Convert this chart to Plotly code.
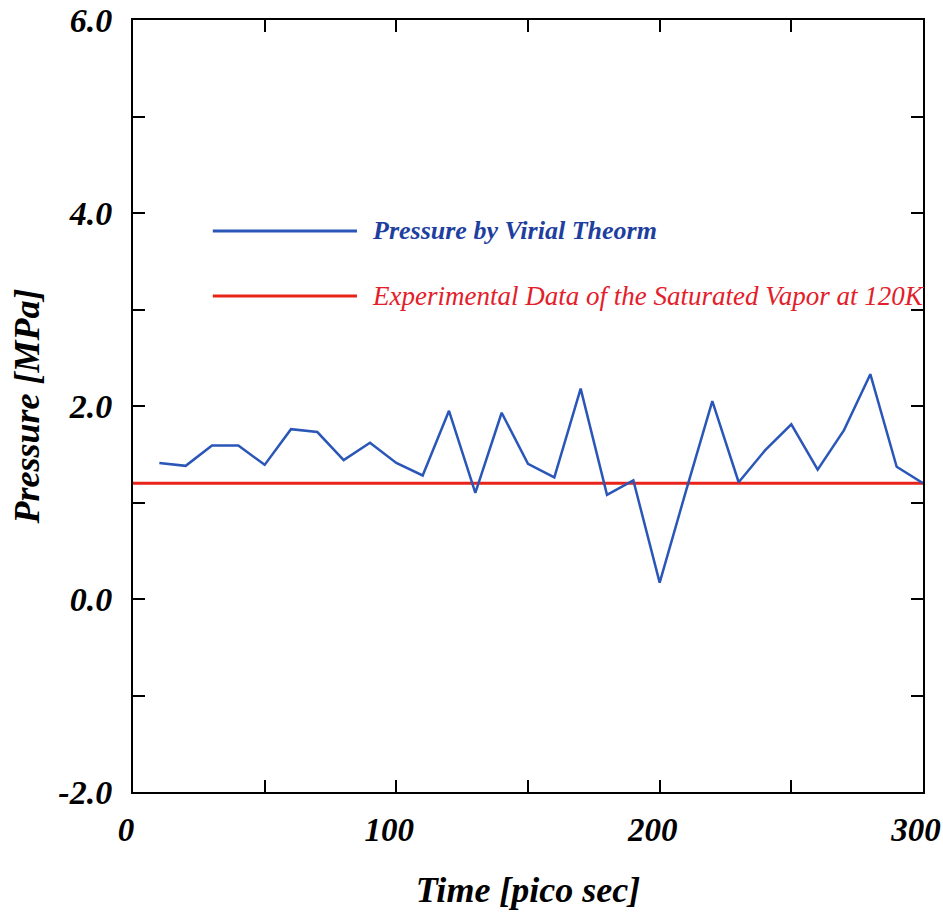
import plotly.graph_objects as go

# Data
time_ps = [10, 20, 30, 40, 50, 60, 70, 80, 90, 100,
           110, 120, 130, 140, 150, 160, 170, 180, 190, 200,
           210, 220, 230, 240, 250, 260, 270, 280, 290, 300]
pressure_virial = [1.41, 1.38, 1.59, 1.59, 1.39, 1.76, 1.73, 1.44, 1.62, 1.41,
                   1.28, 1.95, 1.10, 1.93, 1.40, 1.26, 2.18, 1.08, 1.23, 0.17,
                   1.12, 2.05, 1.21, 1.54, 1.81, 1.34, 1.75, 2.33, 1.37, 1.20]
exp_time = [0, 300]
exp_pressure = [1.2, 1.2]

x_tickvals = [0, 50, 100, 150, 200, 250, 300]
x_ticktext = ["0", "", "100", "", "200", "", "300"]
y_tickvals = [-2, -1, 0, 1, 2, 3, 4, 5, 6]
y_ticktext = ["-2.0", "", "0.0", "", "2.0", "", "4.0", "", "6.0"]

legend_names = ["Pressure by Virial Theorm",
                "Experimental Data of the Saturated Vapor at 120K"]

BLUE = "#2a56b8"
RED = "#e8231a"
SERIF = "Liberation Serif"

fig = go.Figure()
fig.add_trace(go.Scatter(x=exp_time, y=exp_pressure, mode="lines",
                         line=dict(color=RED, width=3), name=legend_names[1],
                         showlegend=False))
fig.add_trace(go.Scatter(x=time_ps, y=pressure_virial, mode="lines",
                         line=dict(color=BLUE, width=2.5), name=legend_names[0],
                         showlegend=False))

# Legend drawn manually to match the long sample lines
leg_y = [0.7267, 0.6425]
leg_colors = [BLUE, RED]
for yy, col in zip(leg_y, leg_colors):
    fig.add_shape(type="line", xref="paper", yref="paper",
                  x0=0.101, x1=0.2835, y0=yy, y1=yy,
                  line=dict(color=col, width=3))
fig.add_annotation(xref="paper", yref="paper", x=0.3, y=leg_y[0],
                   xanchor="left", yanchor="middle", showarrow=False,
                   text=legend_names[0],
                   font=dict(family=SERIF, size=26, color="#1f3f9f",
                             weight="bold", style="italic"))
fig.add_annotation(xref="paper", yref="paper", x=0.3, y=leg_y[1],
                   xanchor="left", yanchor="middle", showarrow=False,
                   text=legend_names[1],
                   font=dict(family=SERIF, size=27, color="#e3202a",
                             style="italic"))

xtickfont = dict(family=SERIF, size=33, color="black", weight="bold", style="italic")
ytickfont = dict(family=SERIF, size=34, color="black", weight="bold", style="italic")
titlefont = dict(family=SERIF, size=36, color="black", weight="bold", style="italic")

fig.update_xaxes(range=[0, 300], tickvals=x_tickvals, ticktext=x_ticktext,
                 ticks="inside", ticklen=12, tickwidth=2, tickcolor="black",
                 showline=True, linecolor="black", linewidth=2, mirror="allticks",
                 showgrid=False, zeroline=False, tickfont=xtickfont,
                 ticklabelstandoff=7, ticklabelshift=-7, ticklabeloverflow="allow",
                 automargin=False,
                 title=dict(text="Time [pico sec]", font=titlefont, standoff=30))
fig.update_yaxes(range=[-2, 6], tickvals=y_tickvals, ticktext=y_ticktext,
                 ticks="inside", ticklen=12, tickwidth=2, tickcolor="black",
                 showline=True, linecolor="black", linewidth=2, mirror="allticks",
                 showgrid=False, zeroline=False, tickfont=ytickfont,
                 ticklabelstandoff=12, ticklabeloverflow="allow", automargin=False,
                 title=dict(text="Pressure [MPa]", font=titlefont, standoff=8))

fig.update_layout(width=943, height=912, plot_bgcolor="white", paper_bgcolor="white",
                  margin=dict(l=133, r=20, t=20, b=120), showlegend=False)

fig.write_html("out.html")
